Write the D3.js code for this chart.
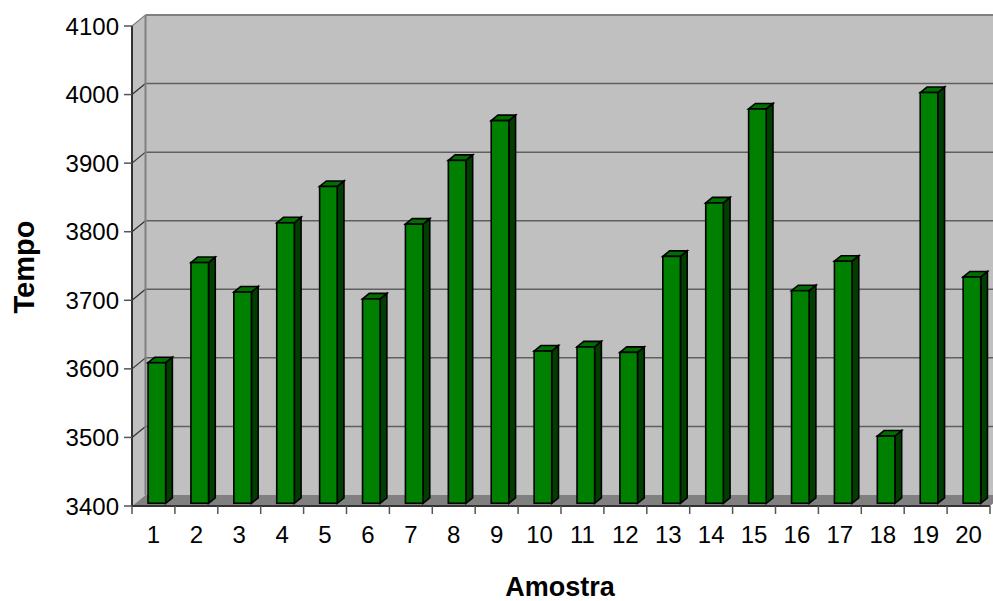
<!DOCTYPE html>
<html>
<head>
<meta charset="utf-8">
<script src="https://cdn.jsdelivr.net/npm/d3@7"></script>
<style>
  body { margin: 0; background: #fff; }
  svg { display: block; }
  text { font-family: "Liberation Sans", Arial, sans-serif; fill: #000; }
</style>
</head>
<body>
<svg id="chart" width="993" height="601"></svg>
<script>
// Sample numbers (Amostra) and their measured times (Tempo)
const categories = ["1","2","3","4","5","6","7","8","9","10","11","12","13","14","15","16","17","18","19","20"];
const tempo = [3605, 3751, 3708, 3809, 3862, 3698, 3807, 3900, 3958, 3622, 3628, 3620, 3760, 3838, 3975, 3710, 3753, 3498, 3999, 3730];
const yTicks = [3400, 3500, 3600, 3700, 3800, 3900, 4000, 4100];

const svg = d3.select("#chart");

// Front plane of the 3-D plot box
const x = d3.scaleBand().domain(categories).range([132, 990]);
const y = d3.scaleLinear().domain([3400, 4100]).range([506, 26]);

// Depth offset of the back wall relative to the front plane
const DX = 13.5, DY = -11;
const depth = t => [DX * t, DY * t];

const x0 = x.range()[0], x1 = x.range()[1];
const yBottom = y(yTicks[0]), yTop = y(yTicks[yTicks.length - 1]);

// Back wall
svg.append("rect")
  .attr("x", x0 + DX).attr("y", yTop + DY)
  .attr("width", x1 - x0 + 20).attr("height", yBottom - yTop)
  .attr("fill", "#c0c0c0");

// Side wall
svg.append("polygon")
  .attr("points", [[x0, yTop], [x0 + DX, yTop + DY], [x0 + DX, yBottom + DY], [x0, yBottom]].join(" "))
  .attr("fill", "#c0c0c0");

// Floor
svg.append("polygon")
  .attr("points", [[x0, yBottom], [x0 + DX, yBottom + DY], [x1 + DX, yBottom + DY], [x1, yBottom]].join(" "))
  .attr("fill", "#808080");

// Gridlines on the back wall plus the slanted links on the side wall
const grid = svg.append("g");
yTicks.slice(1, -1).forEach(v => {
  grid.append("line")
    .attr("x1", x0 + DX).attr("x2", 993)
    .attr("y1", y(v) + DY).attr("y2", y(v) + DY)
    .attr("stroke", "#5f5f5f").attr("stroke-width", 1.5);
});
yTicks.slice(1).forEach(v => {
  grid.append("line")
    .attr("x1", x0).attr("y1", y(v))
    .attr("x2", x0 + DX).attr("y2", y(v) + DY)
    .attr("stroke", v === yTicks[yTicks.length - 1] ? "#808080" : "#303030")
    .attr("stroke-width", 1.2);
});

// Top edge of the back wall
svg.append("line")
  .attr("x1", x0 + DX).attr("x2", 993)
  .attr("y1", yTop + DY).attr("y2", yTop + DY)
  .attr("stroke", "#808080").attr("stroke-width", 2);

// Back edge of the side wall
svg.append("line")
  .attr("x1", x0 + DX).attr("x2", x0 + DX)
  .attr("y1", yTop + DY).attr("y2", yBottom + DY)
  .attr("stroke", "#808080").attr("stroke-width", 2);

// Bars: a front face, right side face and top face, set in the middle of the depth
const bw = x.bandwidth() * 0.41;
const [fdx, fdy] = depth(0.25);
const [bdx, bdy] = depth(0.75);

const bars = svg.append("g").selectAll("g")
  .data(categories.map((c, i) => ({ c, v: tempo[i] })))
  .join("g");

bars.each(function (d) {
  const g = d3.select(this);
  const left = x(d.c) + (x.bandwidth() - bw) / 2;
  const right = left + bw;
  const top = y(d.v), base = y(yTicks[0]);
  const sw = 1.6;

  // side face
  g.append("polygon")
    .attr("points", [[right + fdx, top + fdy], [right + bdx, top + bdy], [right + bdx, base + bdy], [right + fdx, base + fdy]].join(" "))
    .attr("fill", "#003f00").attr("stroke", "#000").attr("stroke-width", sw);
  // top face
  g.append("polygon")
    .attr("points", [[left + fdx, top + fdy], [left + bdx, top + bdy], [right + bdx, top + bdy], [right + fdx, top + fdy]].join(" "))
    .attr("fill", "#006e00").attr("stroke", "#000").attr("stroke-width", sw);
  // front face
  g.append("rect")
    .attr("x", left + fdx).attr("y", top + fdy)
    .attr("width", bw).attr("height", base - top)
    .attr("fill", "#008000").attr("stroke", "#000").attr("stroke-width", sw);
});

// Value axis (front left edge)
svg.append("line")
  .attr("x1", x0).attr("x2", x0).attr("y1", yTop).attr("y2", yBottom)
  .attr("stroke", "#333").attr("stroke-width", 2);
const yAxis = svg.append("g");
yTicks.forEach(v => {
  yAxis.append("line")
    .attr("x1", x0 - 8).attr("x2", x0)
    .attr("y1", y(v)).attr("y2", y(v))
    .attr("stroke", "#555").attr("stroke-width", 1.5);
  yAxis.append("text")
    .attr("x", x0 - 13).attr("y", y(v) + 8.5)
    .attr("text-anchor", "end")
    .attr("font-size", 24)
    .text(v);
});

// Category axis (front bottom edge)
svg.append("line")
  .attr("x1", x0).attr("x2", x1).attr("y1", yBottom).attr("y2", yBottom)
  .attr("stroke", "#333").attr("stroke-width", 2);
const xAxis = svg.append("g");
const bounds = categories.map(c => x(c)).concat([x1]);
bounds.forEach(b => {
  xAxis.append("line")
    .attr("x1", b).attr("x2", b)
    .attr("y1", yBottom).attr("y2", yBottom + 8)
    .attr("stroke", "#555").attr("stroke-width", 1.5);
});
categories.forEach(c => {
  xAxis.append("text")
    .attr("x", x(c) + x.bandwidth() / 2).attr("y", 542.5)
    .attr("text-anchor", "middle")
    .attr("font-size", 24)
    .text(c);
});

// Axis titles
svg.append("text")
  .attr("x", 560).attr("y", 596)
  .attr("text-anchor", "middle")
  .attr("font-size", 27).attr("font-weight", "bold")
  .text("Amostra");
svg.append("text")
  .attr("transform", "translate(34,267) rotate(-90)")
  .attr("text-anchor", "middle")
  .attr("font-size", 29).attr("font-weight", "bold")
  .text("Tempo");
</script>
</body>
</html>
